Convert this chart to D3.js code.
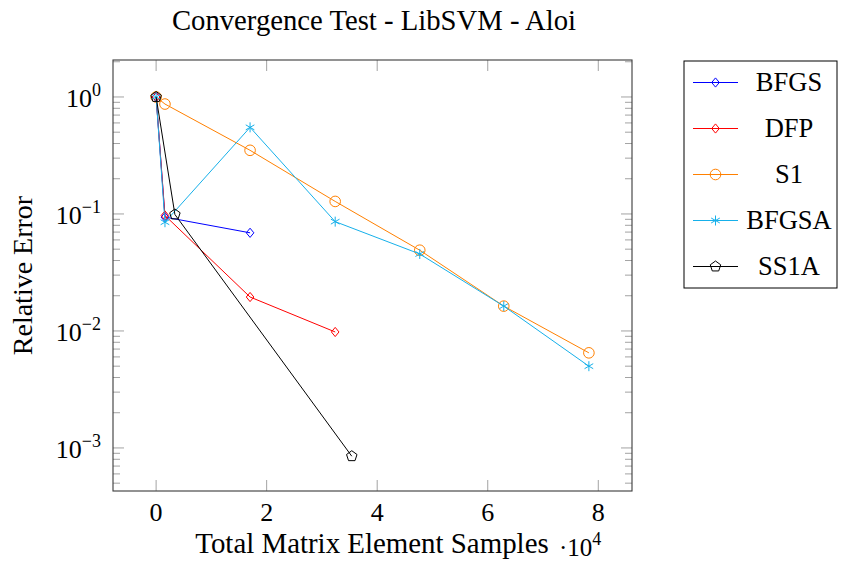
<!DOCTYPE html>
<html>
<head>
<meta charset="utf-8">
<script src="https://cdn.jsdelivr.net/npm/d3@7"></script>
<style>
  body { margin: 0; background: #fff; }
  text { font-family: "Liberation Serif", "DejaVu Serif", serif; fill: #000; }
</style>
</head>
<body>
<svg id="chart" width="841" height="563"></svg>
<script>
// dati (x in unità di 10^4)
const seriesNames = ["BFGS", "DFP", "S1", "BFGSA", "SS1A"];
const seriesColors = ["#0000ff", "#ff0000", "#ff8000", "#16b0ea", "#000000"];
const seriesMarkers = ["diamond", "diamond", "circle", "asterisk", "pentagon"];

const bfgsX = [0, 0.16, 1.70];
const bfgsY = [1.0, 0.094, 0.069];
const dfpX = [0, 0.16, 1.70, 3.24];
const dfpY = [1.0, 0.097, 0.0195, 0.0098];
const s1X = [0, 0.16, 1.70, 3.24, 4.77, 6.29, 7.83];
const s1Y = [1.0, 0.87, 0.35, 0.128, 0.049, 0.0163, 0.0065];
const bfgsaX = [0, 0.16, 1.70, 3.24, 4.77, 6.29, 7.83];
const bfgsaY = [1.0, 0.085, 0.55, 0.086, 0.0455, 0.0163, 0.0050];
const ss1aX = [0, 0.34, 3.54];
const ss1aY = [1.0, 0.099, 0.00085];

const xTicks = [0, 2, 4, 6, 8];
const yTicks = [1, 0.1, 0.01, 0.001];
const yExp = ["0", "\u22121", "\u22122", "\u22123"];

const seriesData = [
    [bfgsX, bfgsY], [dfpX, dfpY], [s1X, s1Y], [bfgsaX, bfgsaY], [ss1aX, ss1aY]
];

const svg = d3.select("#chart");
const pLeft = 113, pRight = 632, pTop = 60, pBottom = 491;

/* scale */
const x = d3.scaleLinear().domain([-0.78, 8.61]).range([pLeft, pRight]);
const y = d3.scaleLog().domain([Math.pow(10, -3.368), Math.pow(10, 0.316)]).range([pBottom, pTop]);

const tickColor = "#8c8c8c";
const majLen = 11, minLen = 7;

/* tick minori sull'asse y (sinistra e destra) */
const minor = [];
for (let e = -4; e <= 0; e++) {
    for (let k = 2; k <= 9; k++) {
        const v = k * Math.pow(10, e);
        if (v > y.domain()[0] && v < y.domain()[1]) minor.push(v);
    }
}
svg.append("g").selectAll("line").data(minor).enter().append("line")
    .attr("x1", pLeft).attr("x2", pLeft + minLen)
    .attr("y1", d => y(d)).attr("y2", d => y(d))
    .attr("stroke", tickColor).attr("stroke-width", 0.8);
svg.append("g").selectAll("line").data(minor).enter().append("line")
    .attr("x1", pRight).attr("x2", pRight - minLen)
    .attr("y1", d => y(d)).attr("y2", d => y(d))
    .attr("stroke", tickColor).attr("stroke-width", 0.8);

/* tick maggiori y */
svg.append("g").selectAll("line").data(yTicks).enter().append("line")
    .attr("x1", pLeft).attr("x2", pLeft + majLen)
    .attr("y1", d => y(d)).attr("y2", d => y(d))
    .attr("stroke", tickColor).attr("stroke-width", 0.8);
svg.append("g").selectAll("line").data(yTicks).enter().append("line")
    .attr("x1", pRight).attr("x2", pRight - majLen)
    .attr("y1", d => y(d)).attr("y2", d => y(d))
    .attr("stroke", tickColor).attr("stroke-width", 0.8);

/* tick maggiori x (sopra e sotto) */
svg.append("g").selectAll("line").data(xTicks).enter().append("line")
    .attr("x1", d => x(d)).attr("x2", d => x(d))
    .attr("y1", pBottom).attr("y2", pBottom - majLen)
    .attr("stroke", tickColor).attr("stroke-width", 0.8);
svg.append("g").selectAll("line").data(xTicks).enter().append("line")
    .attr("x1", d => x(d)).attr("x2", d => x(d))
    .attr("y1", pTop).attr("y2", pTop + majLen)
    .attr("stroke", tickColor).attr("stroke-width", 0.8);

/* cornice */
svg.append("rect")
    .attr("x", pLeft).attr("y", pTop)
    .attr("width", pRight - pLeft).attr("height", pBottom - pTop)
    .attr("fill", "none").attr("stroke", "#3a3a3a").attr("stroke-width", 1.1);

/* etichette tick x */
svg.append("g").selectAll("text").data(xTicks).enter().append("text")
    .attr("x", d => x(d)).attr("y", 521)
    .attr("text-anchor", "middle").attr("font-size", 26)
    .text(d => d);

/* etichette tick y: 10^e */
yTicks.forEach((v, i) => {
    const t = svg.append("text")
        .attr("x", 101).attr("y", y(v) + 10)
        .attr("text-anchor", "end").attr("font-size", 26);
    t.append("tspan").text("10");
    t.append("tspan").attr("dy", -11).attr("font-size", 18).text(yExp[i]);
});

/* titolo e nomi assi */
svg.append("text").attr("x", 374).attr("y", 30)
    .attr("text-anchor", "middle").attr("font-size", 28.7)
    .text("Convergence Test - LibSVM - Aloi");

svg.append("text").attr("x", 372).attr("y", 553)
    .attr("text-anchor", "middle").attr("font-size", 28.9)
    .text("Total Matrix Element Samples");

const mult = svg.append("text").attr("x", 559).attr("y", 556).attr("font-size", 25);
mult.append("tspan").text("\u00b710");
mult.append("tspan").attr("dy", -11).attr("font-size", 18).text("4");

svg.append("text")
    .attr("transform", `translate(32,${(pTop + pBottom) / 2}) rotate(-90)`)
    .attr("text-anchor", "middle").attr("font-size", 28)
    .text("Relative Error");

/* disegna un marcatore */
function drawMarker(g, kind, cx, cy, color) {
    if (kind === "diamond") {
        g.append("path")
            .attr("d", `M${cx},${cy - 4.6}L${cx + 3.8},${cy}L${cx},${cy + 4.6}L${cx - 3.8},${cy}Z`)
            .attr("fill", "none").attr("stroke", color).attr("stroke-width", 1);
    } else if (kind === "circle") {
        g.append("circle").attr("cx", cx).attr("cy", cy).attr("r", 5.3)
            .attr("fill", "none").attr("stroke", color).attr("stroke-width", 1);
    } else if (kind === "asterisk") {
        for (let a = 0; a < 3; a++) {
            const ang = Math.PI / 2 + a * Math.PI / 3;
            g.append("line")
                .attr("x1", cx + 5 * Math.cos(ang)).attr("y1", cy + 5 * Math.sin(ang))
                .attr("x2", cx - 5 * Math.cos(ang)).attr("y2", cy - 5 * Math.sin(ang))
                .attr("stroke", color).attr("stroke-width", 1);
        }
    } else if (kind === "pentagon") {
        const pts = d3.range(5).map(k => {
            const ang = -Math.PI / 2 + k * 2 * Math.PI / 5;
            return [cx + 5.5 * Math.cos(ang), cy + 5.5 * Math.sin(ang)];
        });
        g.append("path").attr("d", "M" + pts.join("L") + "Z")
            .attr("fill", "none").attr("stroke", color).attr("stroke-width", 1);
    }
}

/* serie */
const line = d3.line().x(d => x(d[0])).y(d => y(d[1]));
seriesData.forEach((s, i) => {
    const pts = s[0].map((v, j) => [v, s[1][j]]);
    const g = svg.append("g");
    g.append("path").datum(pts).attr("d", line)
        .attr("fill", "none").attr("stroke", seriesColors[i]).attr("stroke-width", 1);
    pts.forEach(p => drawMarker(g, seriesMarkers[i], x(p[0]), y(p[1]), seriesColors[i]));
});

/* legenda */
const lg = svg.append("g");
lg.append("rect").attr("x", 684).attr("y", 61).attr("width", 153).attr("height", 227)
    .attr("fill", "#fff").attr("stroke", "#000").attr("stroke-width", 1);
seriesNames.forEach((name, i) => {
    const ly = 82.5 + i * 46;
    lg.append("line").attr("x1", 693).attr("x2", 738).attr("y1", ly).attr("y2", ly)
        .attr("stroke", seriesColors[i]).attr("stroke-width", 1);
    drawMarker(lg, seriesMarkers[i], 715.5, ly, seriesColors[i]);
    lg.append("text").attr("x", 789).attr("y", ly + 8.5)
        .attr("text-anchor", "middle").attr("font-size", 26.5).text(name);
});
</script>
</body>
</html>
